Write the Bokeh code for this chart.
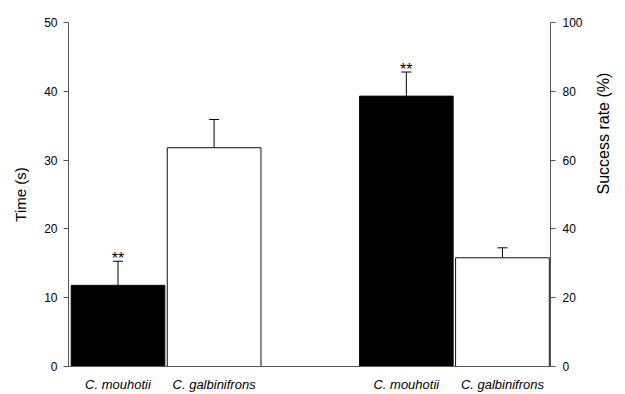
import math
from bokeh.plotting import figure
from bokeh.models import (Range1d, LinearAxis, FixedTicker, ColumnDataSource,
                          Whisker, TeeHead)
from bokeh.core.properties import value
from bokeh.embed import file_html
from bokeh.resources import INLINE

# ---- data ----
species = ["C. mouhotii", "C. galbinifrons"]
time_mean = [11.8, 31.8]
time_se = [3.5, 4.1]
success_mean = [78.6, 31.6]
success_se = [7.0, 2.9]
significant = ["**", ""]
left_ticks = [0, 10, 20, 30, 40, 50]
right_ticks = [0, 20, 40, 60, 80, 100]

FONT = "Liberation Sans"
AXIS_COLOR = "#555555"
fills = ["black", "white"]

# positions: two groups of two bars with a one-bar gap
time_x = [0, 1]
succ_x = [3, 4]

p = figure(width=625, height=394, output_backend="svg", toolbar_location=None,
           x_range=Range1d(-0.515, 4.5), y_range=Range1d(0, 50),
           min_border_left=68, min_border_right=75, min_border_top=22,
           min_border_bottom=26, x_axis_location=None, y_axis_location=None)
p.extra_y_ranges = {"pct": Range1d(0, 100)}
p.grid.visible = False
p.outline_line_color = None
p.background_fill_color = "white"
p.border_fill_color = "white"

# ---- bars ----
src_t = ColumnDataSource(dict(x=time_x, top=time_mean, upper=[m + s for m, s in zip(time_mean, time_se)],
                              fill=fills, star=significant))
src_s = ColumnDataSource(dict(x=succ_x, top=success_mean, upper=[m + s for m, s in zip(success_mean, success_se)],
                              fill=fills, star=significant))

p.vbar(x="x", top="top", bottom=0, width=0.975, source=src_t,
       fill_color="fill", line_color="#111111", line_width=1)
p.vbar(x="x", top="top", bottom=0, width=0.975, source=src_s,
       fill_color="fill", line_color="#111111", line_width=1, y_range_name="pct")

# ---- error bars (upper only) ----
p.add_layout(Whisker(source=src_t, base="x", lower="top", upper="upper", dimension="height",
                     line_color="black", line_width=1, lower_head=None,
                     upper_head=TeeHead(size=10, line_color="black", line_width=1)))
p.add_layout(Whisker(source=src_s, base="x", lower="top", upper="upper", dimension="height",
                     line_color="black", line_width=1, lower_head=None, y_range_name="pct",
                     upper_head=TeeHead(size=10, line_color="black", line_width=1)))

# ---- significance stars ----
p.text(x="x", y="upper", text="star", source=src_t, text_align="center",
       text_baseline="alphabetic", y_offset=-3, text_font=value(FONT),
       text_font_size="16px", text_color="black")
p.text(x="x", y="upper", text="star", source=src_s, text_align="center",
       text_baseline="alphabetic", y_offset=-3, text_font=value(FONT),
       text_font_size="16px", text_color="black", y_range_name="pct")

# ---- axes ----
def style(ax):
    ax.axis_line_color = AXIS_COLOR
    ax.axis_line_width = 1
    ax.major_tick_line_color = AXIS_COLOR
    ax.minor_tick_line_color = None
    ax.major_label_text_font = FONT
    ax.major_label_text_font_size = "12px"
    ax.major_label_text_color = "black"
    ax.axis_label_text_font = FONT
    ax.axis_label_text_font_size = "15px"
    ax.axis_label_text_font_style = "normal"
    ax.axis_label_text_color = "black"

left = LinearAxis(ticker=FixedTicker(ticks=left_ticks), axis_label="Time (s)")
style(left)
left.major_tick_out = 5
left.major_tick_in = 0
left.major_label_standoff = 6
left.axis_label_standoff = 12
p.add_layout(left, "left")

right = LinearAxis(ticker=FixedTicker(ticks=right_ticks), axis_label="Success rate (%)",
                   y_range_name="pct")
style(right)
right.axis_label_text_font_size = "16px"
right.major_tick_out = 5
right.major_tick_in = 0
right.major_label_standoff = 7
right.axis_label_standoff = 18
if "axis_label_orientation" in right.properties():
    right.axis_label_orientation = math.pi / 2
p.add_layout(right, "right")

bottom = LinearAxis(ticker=FixedTicker(ticks=time_x + succ_x),
                    major_label_overrides={x: s for x, s in zip(time_x + succ_x, species + species)})
style(bottom)
bottom.major_tick_out = 0
bottom.major_tick_in = 0
bottom.major_tick_line_color = None
bottom.major_label_text_font_style = "italic"
bottom.major_label_text_font_size = "13px"
bottom.major_label_standoff = 10
p.add_layout(bottom, "below")

open("out.html", "w").write(file_html(p, INLINE))
